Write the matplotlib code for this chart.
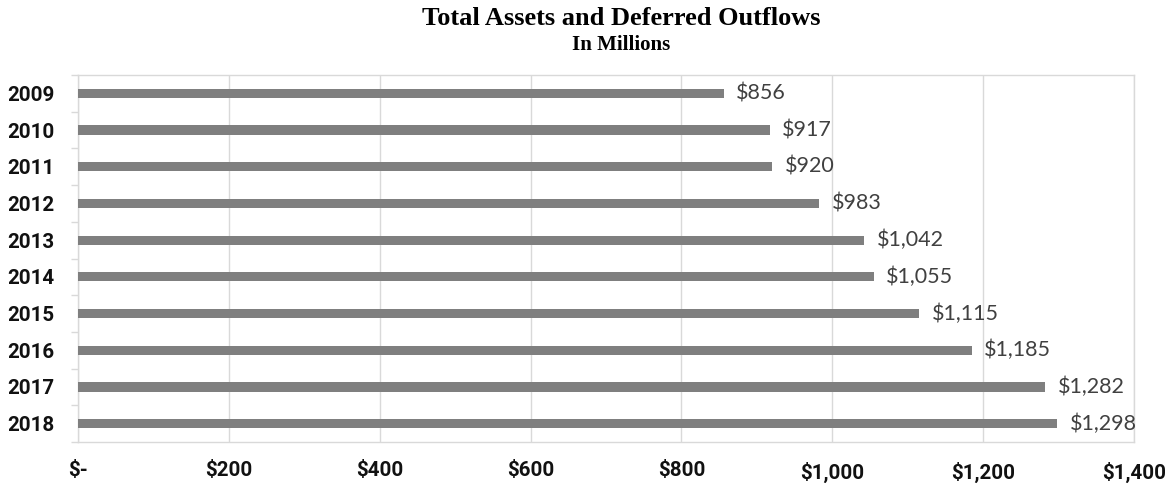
import matplotlib
matplotlib.use("Agg")
import matplotlib.pyplot as plt
from matplotlib.ticker import FixedLocator

years = ["2009", "2010", "2011", "2012", "2013", "2014", "2015", "2016", "2017", "2018"]
values = [856, 917, 920, 983, 1042, 1055, 1115, 1185, 1282, 1298]
xticks = [0, 200, 400, 600, 800, 1000, 1200, 1400]
xticklabels = ["$-", "$200", "$400", "$600", "$800", "$1,000", "$1,200", "$1,400"]

fig = plt.figure(figsize=(11.73, 4.84), dpi=100)
ax = fig.add_axes([78 / 1173, 1 - 442 / 484, (1134 - 78) / 1173, (442 - 75) / 484])

pos = list(range(len(years)))
ax.barh(pos, values, height=0.25, color="#7f7f7f", zorder=3)
ax.set_ylim(len(years) - 0.5, -0.5)
ax.set_xlim(0, 1400)

tick_font = dict(fontsize=14.8, fontweight="bold", family="Roboto", color="#111111")

ax.set_yticks(pos)
ax.set_yticklabels(years, **tick_font)
ax.yaxis.set_minor_locator(FixedLocator([p - 0.5 for p in pos] + [len(years) - 0.5]))
ax.tick_params(axis="y", which="major", length=0, pad=17)
ax.tick_params(axis="y", which="minor", length=5, color="#d9d9d9", width=1)

ax.set_xticks(xticks)
ax.set_xticklabels(xticklabels, **tick_font)
ax.tick_params(axis="x", length=0, pad=14)
ax.grid(axis="x", color="#d9d9d9", linewidth=1, zorder=0)

for s in ax.spines.values():
    s.set_color("#d9d9d9")
    s.set_linewidth(1)

for p, v in zip(pos, values):
    ax.annotate(f"${v:,}", (v, p), xytext=(9, 0), textcoords="offset points",
                va="center", ha="left", fontsize=15.5, family="Lato", color="#404040")

fig.text(621 / 1173, 1 - 25 / 484, "Total Assets and Deferred Outflows", ha="center", va="baseline",
         fontsize=19, fontweight="bold", family="Liberation Serif")
fig.text(621 / 1173, 1 - 50 / 484, "In Millions", ha="center", va="baseline",
         fontsize=15, fontweight="bold", family="Liberation Serif")

fig.savefig("out.png", dpi=100)
